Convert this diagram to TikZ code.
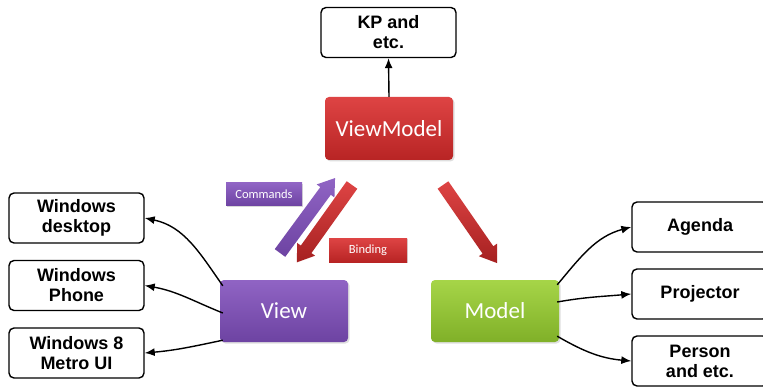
\documentclass[tikz,border=0pt]{standalone}
\usepackage{fontspec}
\setmainfont{Liberation Sans}
\newfontfamily\calib{Carlito}
\usetikzlibrary{arrows.meta,shadows}
\definecolor{pTop}{HTML}{9064C4}
\definecolor{pBot}{HTML}{6D43A2}
\definecolor{rTop}{HTML}{DE4444}
\definecolor{rBot}{HTML}{B82424}
\definecolor{gTop}{HTML}{A6D548}
\definecolor{gBot}{HTML}{80B028}
\tikzset{
  x=1pt,y=1pt,
  wbox/.style={draw=black,line width=1.4pt,rounded corners=5pt,fill=white,
    minimum width=135pt,minimum height=50pt,align=center,inner sep=0pt,
    font=\bfseries\fontsize{18}{20}\selectfont},
  colbox/.style={rounded corners=4pt,minimum width=128pt,minimum height=62pt,
    text=white,font=\calib\fontsize{23}{26}\selectfont,
    drop shadow={opacity=0.25,shadow xshift=1.5pt,shadow yshift=-1.5pt}},
  purplebox/.style={colbox,top color=pTop,bottom color=pBot},
  redbox/.style={colbox,top color=rTop,bottom color=rBot},
  greenbox/.style={colbox,top color=gTop,bottom color=gBot},
  tagbox/.style={text=white,font=\calib\fontsize{12.5}{14}\selectfont,inner sep=0pt,
    drop shadow={opacity=0.3,shadow xshift=1.2pt,shadow yshift=-1.2pt}},
  conn/.style={line width=1.4pt,-{Latex[length=10pt,width=8pt]}},
}
\begin{document}
\begin{tikzpicture}
\useasboundingbox (0,0) rectangle (763,386);
\clip (0,0) rectangle (763,386);
\fill[white] (0,0) rectangle (763,386);

% top box
\node[wbox] (kp) at (388.5,353.5) {KP and\\etc.};
\node[redbox,minimum height=63pt] (vm) at (389,257.5) {ViewModel};
\node[purplebox] (view) at (284,75) {View};
\node[greenbox] (model) at (495,75) {Model};

% labels
\node[tagbox,minimum width=76pt,minimum height=23pt,top color=pTop,bottom color=pBot] (cmd) at (264,191.5) {Commands};
\node[tagbox,minimum width=78pt,minimum height=24pt,top color=rTop,bottom color=rBot] (bind) at (368,136) {Binding};

% left boxes
\node[wbox] (desk) at (76.5,168) {Windows\\desktop};
\node[wbox] (phone) at (76.5,100.5) {Windows\\Phone};
\node[wbox] (metro) at (76.5,33) {Windows 8\\Metro UI};

% right boxes
\node[wbox,minimum width=136pt] (agenda) at (700,159) {Agenda};
\node[wbox,minimum width=136pt] (proj) at (700,92) {Projector};
\node[wbox,minimum width=136pt] (person) at (700,25) {Person\\and etc.};

% connectors
\draw[conn] (vm.north) -- (kp.south);
\draw[conn] ([xshift=3pt,yshift=-6pt]view.north west) to[out=125,in=-12] (desk.east);
\draw[conn] ([xshift=3pt,yshift=-2pt]view.west) to[out=158,in=-10] (phone.east);
\draw[conn] ([xshift=3pt,yshift=2pt]view.south west) to[out=192,in=5] (metro.east);
\draw[conn] ([xshift=-2pt,yshift=-5pt]model.north east) to[out=50,in=195] (agenda.west);
\draw[conn] ([xshift=-2pt,yshift=9pt]model.east) to[out=10,in=185] (proj.west);
\draw[conn] ([xshift=-2pt,yshift=6pt]model.south east) to[out=-30,in=175] (person.west);

% big arrows
\begin{scope}[shift={(280,133)},rotate=53.7]
  \shade[top color=pTop,bottom color=pBot] (0,-6.5) -- (77,-6.5) -- (77,-11) -- (93,0) -- (77,11) -- (77,6.5) -- (0,6.5) -- cycle;
\end{scope}
\begin{scope}[shift={(352,201)},rotate=234.5]
  \shade[top color=rTop,bottom color=rBot!90!black] (0,-6.5) -- (79,-6.5) -- (79,-11) -- (95,0) -- (79,11) -- (79,6.5) -- (0,6.5) -- cycle;
\end{scope}
\begin{scope}[shift={(443,201)},rotate=-55.3]
  \shade[top color=rTop,bottom color=rBot!90!black] (0,-6.5) -- (79,-6.5) -- (79,-11) -- (95,0) -- (79,11) -- (79,6.5) -- (0,6.5) -- cycle;
\end{scope}
\end{tikzpicture}
\end{document}
